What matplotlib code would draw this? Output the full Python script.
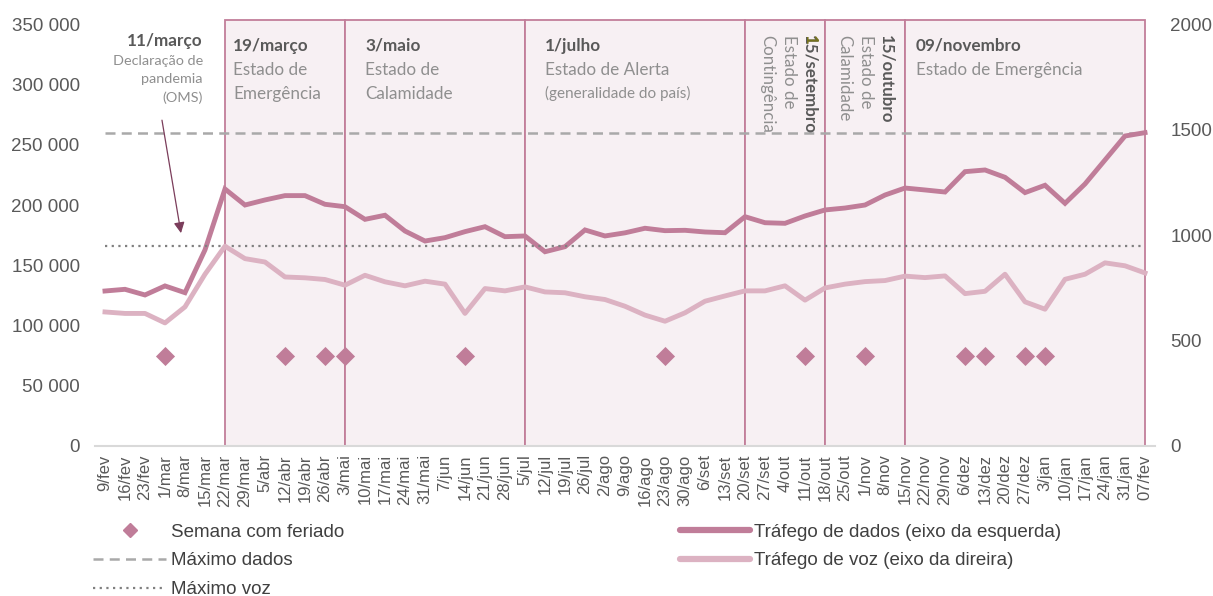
import matplotlib
matplotlib.use("Agg")
import matplotlib.pyplot as plt
from matplotlib.patches import Rectangle
from matplotlib.lines import Line2D
from matplotlib.ticker import FuncFormatter

semanas = ["9/fev", "16/fev", "23/fev", "1/mar", "8/mar", "15/mar", "22/mar", "29/mar",
           "5/abr", "12/abr", "19/abr", "26/abr", "3/mai", "10/mai", "17/mai", "24/mai",
           "31/mai", "7/jun", "14/jun", "21/jun", "28/jun", "5/jul", "12/jul", "19/jul",
           "26/jul", "2/ago", "9/ago", "16/ago", "23/ago", "30/ago", "6/set", "13/set",
           "20/set", "27/set", "4/out", "11/out", "18/out", "25/out", "1/nov", "8/nov",
           "15/nov", "22/nov", "29/nov", "6/dez", "13/dez", "20/dez", "27/dez", "3/jan",
           "10/jan", "17/jan", "24/jan", "31/jan", "07/fev"]

dados = [128700, 130100, 125400, 132900, 127300, 162800, 213400, 200100,
         204300, 207900, 207900, 200700, 198700, 188200, 191600, 178500,
         170200, 173000, 178000, 182100, 173800, 174400, 161300, 165500,
         179400, 174400, 177000, 180800, 178800, 179100, 177700, 177100,
         190400, 185400, 184900, 191000, 196000, 197600, 200100, 208400,
         214200, 212600, 210900, 227800, 229200, 223100, 210400, 216500,
         201500, 217600, 237500, 257400, 260200]

voz = [636, 629, 629, 584, 660, 815, 948, 889,
       873, 802, 798, 790, 763, 810, 779, 760,
       782, 768, 629, 747, 736, 755, 731, 727,
       708, 695, 663, 621, 592, 632, 687, 712,
       736, 736, 760, 692, 750, 768, 780, 785,
       806, 799, 807, 723, 734, 815, 684, 649,
       791, 815, 869, 855, 821]

feriados = ["1/mar", "12/abr", "26/abr", "3/mai", "14/jun", "23/ago", "11/out",
            "1/nov", "6/dez", "13/dez", "27/dez", "3/jan"]
nivel_feriado = 75000

# periodos (semana inicio, semana fim)
periodos = [("22/mar", "3/mai"), ("3/mai", "5/jul"), ("5/jul", "20/set"),
            ("20/set", "18/out"), ("18/out", "15/nov"), ("15/nov", "07/fev")]

c_dados = "#c07d99"
c_voz = "#dcb2c2"
c_box = "#c27e9a"
c_fill = "#f7f0f3"
c_tit = "#595959"
c_txt = "#8f8f8f"
afont = "Lato"

plt.rcParams["font.family"] = ["Liberation Sans", "DejaVu Sans"]

fig = plt.figure(figsize=(12.13, 5.96), dpi=100)
ax = fig.add_axes([0.0783, 0.2517, 0.8739, 0.7072])
ax2 = ax.twinx()

x = list(range(len(semanas)))
idx = {s: i for i, s in enumerate(semanas)}

for a, b in periodos:
    ax.add_patch(Rectangle((idx[a], 0), idx[b] - idx[a], 353500, facecolor=c_fill,
                           edgecolor=c_box, linewidth=1.3, clip_on=False, zorder=0))

ax.hlines(max(dados), 0, len(x) - 1, colors="#a9a9a9", linestyles=(0, (4, 2.5)),
          linewidth=1.8, zorder=2)
ax.plot(x, dados, color=c_dados, linewidth=3.5, zorder=3, solid_joinstyle="miter")
ax.scatter([idx[s] for s in feriados], [nivel_feriado] * len(feriados), marker="D",
           s=95, color=c_dados, linewidths=0, zorder=4)

ax2.hlines(max(voz), 0, len(x) - 1, colors="#808080", linestyles=(0, (1, 2)),
           linewidth=1.6, zorder=2)
ax2.plot(x, voz, color=c_voz, linewidth=3.5, zorder=3)

ax.set_xlim(-0.5, len(x) - 0.5)
ax.set_ylim(0, 350000)
ax2.set_ylim(0, 2000)
ax.set_yticks(range(0, 350001, 50000))
ax.yaxis.set_major_formatter(FuncFormatter(lambda v, p: f"{int(v):,}".replace(",", " ")))
ax2.set_yticks(range(0, 2001, 500))
ax.set_xticks(x)
ax.set_xticklabels(semanas, rotation=90)

for a_ in (ax, ax2):
    for sp in a_.spines.values():
        sp.set_visible(False)
    a_.tick_params(length=0, labelsize=13.5, colors="#595959")
ax.spines["bottom"].set_visible(True)
ax.spines["bottom"].set_color("#d9d9d9")
ax.spines["bottom"].set_linewidth(1.5)
ax.tick_params(axis="x", labelsize=12, pad=6)
ax.tick_params(axis="y", pad=11)
ax2.tick_params(axis="y", pad=11)

# anotacoes
tr = ax.get_xaxis_transform()
def bloco(xi, linhas, y0=0.969, dy=0.057):
    y = y0
    for txt, bold, size in linhas:
        ax.text(xi, y, txt, transform=tr, ha="left", va="top", fontfamily=afont,
                fontsize=size, fontweight="bold" if bold else "normal",
                color=c_tit if bold else c_txt, zorder=5)
        y -= dy if size > 11 else dy * 0.9

bloco(idx["22/mar"] + 0.4, [("19/março", True, 12.3), ("Estado de", False, 12.3), ("Emergência", False, 12.3)])
bloco(idx["3/mai"] + 1.0, [("3/maio", True, 12.3), ("Estado de", False, 12.3), ("Calamidade", False, 12.3)])
bloco(idx["5/jul"] + 1.0, [("1/julho", True, 12.3), ("Estado de Alerta", False, 12.3),
                            ("(generalidade do país)", False, 11)])
bloco(idx["15/nov"] + 0.55, [("09/novembro", True, 12.3), ("Estado de Emergência", False, 12.3)])

# 11/marco
ax.text(idx["15/mar"] - 0.1, 0.979, "11/março", transform=tr, ha="right", va="top",
        fontfamily=afont, fontsize=12.3, fontweight="bold", color=c_tit)
ax.text(idx["15/mar"] - 0.1, 0.928, "Declaração de\npandemia\n(OMS)", transform=tr, ha="right",
        va="top", fontfamily=afont, fontsize=10.4, color=c_txt, linespacing=1.6)
ax.annotate("", xy=(3.8, 0.505), xytext=(2.85, 0.773), xycoords=tr, textcoords=tr,
            arrowprops=dict(arrowstyle="-|>", color="#7b3d5b", lw=0.9, mutation_scale=16,
                            shrinkA=0, shrinkB=0))

# textos rodados
def rodado(xi, txt, bold, cor=None):
    return ax.text(xi, 0.975, txt, transform=tr, rotation=270, rotation_mode="anchor",
                   ha="left", va="baseline", fontfamily=afont, fontsize=12.2,
                   fontweight="bold" if bold else "normal",
                   color=cor or (c_tit if bold else c_txt), zorder=5)

xs = idx["20/set"]
rodado(xs + 0.87, "Contingência", False)
rodado(xs + 1.97, "Estado de", False)
rodado(xs + 2.97, "15/setembro", True)
rodado(xs + 2.97, "1", True, cor="#76721e")
xo = idx["18/out"]
rodado(xo + 0.72, "Calamidade", False)
rodado(xo + 1.82, "Estado de", False)
rodado(xo + 2.82, "15/outubro", True)

# legendas
h1 = [Line2D([], [], marker="D", linestyle="none", color=c_dados, markersize=7),
      Line2D([], [], color="#a9a9a9", linestyle=(0, (4, 2.5)), linewidth=1.8),
      Line2D([], [], color="#808080", linestyle=(0, (1, 2)), linewidth=1.6)]
fig.legend(h1, ["Semana com feriado", "Máximo dados", "Máximo voz"],
           loc="upper left", bbox_to_anchor=(0.063, 0.15), frameon=False,
           fontsize=13.5, handlelength=3.9, handletextpad=0.25, labelspacing=0.62,
           labelcolor="#404040")
h2 = [Line2D([], [], color=c_dados, linewidth=4.5, solid_capstyle="round"),
      Line2D([], [], color=c_voz, linewidth=4.5, solid_capstyle="round")]
fig.legend(h2, ["Tráfego de dados (eixo da esquerda)", "Tráfego de voz (eixo da direira)"],
           loc="upper left", bbox_to_anchor=(0.547, 0.15), frameon=False,
           fontsize=13.5, handlelength=3.7, handletextpad=0.25, labelspacing=0.62,
           labelcolor="#404040")

fig.savefig("out.png", dpi=100)
